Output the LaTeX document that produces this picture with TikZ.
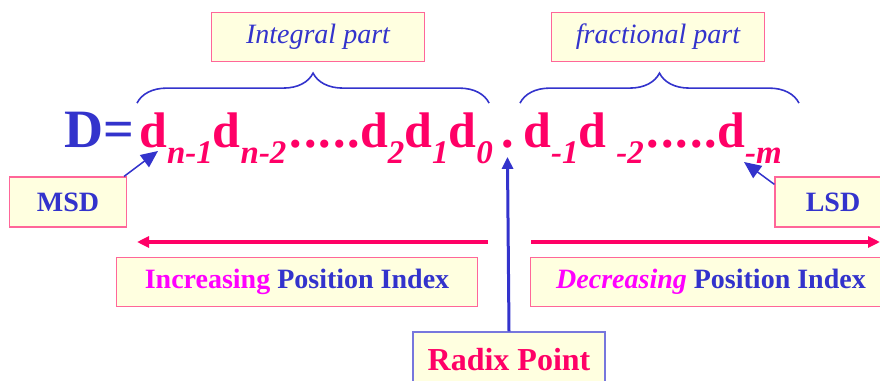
\documentclass[tikz,border=0pt]{standalone}
\usepackage{fontspec}
\setmainfont{Liberation Serif}
\usetikzlibrary{arrows.meta, positioning, decorations.pathreplacing}
\definecolor{DigitRed}{RGB}{255, 0, 102}
\definecolor{LabelBlue}{RGB}{51, 51, 204}
\definecolor{HiMagenta}{RGB}{255, 0, 255}
\definecolor{BoxFill}{RGB}{255, 255, 224}
\definecolor{BoxPink}{RGB}{255, 102, 153}
\definecolor{BoxLilac}{RGB}{119, 119, 221}
\newcommand{\fsz}[1]{\fontsize{#1}{#1}\selectfont}
\newcommand{\sub}[1]{\raisebox{-16pt}{\fsz{33}\itshape #1}}
\newcommand{\dsub}[1]{d\sub{#1}}
\newcommand{\fivedots}{\kern3pt.\kern2pt.\kern2pt.\kern2pt.\kern2pt.}

\begin{document}
\begin{tikzpicture}[x=1pt, y=-1pt,
  box/.style={draw=BoxPink, fill=BoxFill, line width=1.2pt, inner sep=0pt, align=center, text=LabelBlue},
  partbox/.style={box, minimum width=213pt, minimum height=49pt, font=\fsz{28}\itshape},
  sdbox/.style={box, minimum width=117pt, minimum height=50pt, font=\fsz{28}\bfseries},
  idxbox/.style={box, minimum width=361pt, minimum height=49pt, font=\fsz{28}\bfseries},
  digits/.style={inner sep=0pt, anchor=base west, text=DigitRed, font=\fsz{50}\bfseries},
  brc/.style={decorate, decoration={brace, amplitude=30pt}, LabelBlue, line width=1.6pt},
  rarr/.style={-{Triangle[length=12pt, width=11pt]}, DigitRed, line width=3.5pt},
  barr/.style={-{Triangle[length=17pt, width=15pt]}, LabelBlue, line width=1.5pt}]
\useasboundingbox (0, 0) rectangle (880, 380);
% the number
\node[digits, text=LabelBlue, font=\fsz{54}\bfseries] (eqn) at (64, 147) {D=};
\node[digits] (intdig) at (139, 147) {\dsub{n-1}\dsub{n-2}\fivedots\dsub{2}\dsub{1}\dsub{0}};
\node[digits] (rdot) at (501, 147) {.};
\node[digits] (fracdig) at (523, 147) {\dsub{-1}d\kern10pt\sub{-2}\fivedots\dsub{-m}};
% braces and their labels
\draw[brc] ([xshift=-2pt, yshift=9pt]intdig.north west) -- ([xshift=-4pt, yshift=9pt]intdig.north east);
\draw[brc] ([xshift=-3pt, yshift=9pt]fracdig.north west) -- ([xshift=17pt, yshift=9pt]fracdig.north east);
\node[partbox] (intbox) at (318, 37) {Integral part};
\node[partbox] (fracbox) at (658, 37) {fractional part};
% most and least significant digit
\node[sdbox] (msd) at (68, 202) {MSD};
\node[sdbox, minimum width=116pt] (lsd) at (833, 202) {LSD};
\coordinate (msdtip) at (158, 151);
\coordinate (lsdtip) at (744, 162);
\draw[barr] ([xshift=-3pt]msd.north east) -- (msdtip);
\draw[barr] ([yshift=-8pt]lsd.north west) -- (lsdtip);
% position index
\coordinate (incend) at (137, 242);
\coordinate (incstart) at (488, 242);
\coordinate (decstart) at (531, 242);
\coordinate (decend) at (880, 242);
\draw[rarr] (incstart) -- (incend);
\draw[rarr] (decstart) -- (decend);
\node[idxbox] (incbox) at (297, 282) {\textcolor{HiMagenta}{Increasing} Position Index};
\node[idxbox] (decbox) at (711, 282) {\textcolor{HiMagenta}{\itshape Decreasing} Position Index};
% radix point
\node[box, draw=BoxLilac, text=DigitRed, minimum width=192pt, minimum height=56pt, font=\fsz{32}\bfseries] (radix) at (509, 360) {Radix Point};
\draw[-{Triangle[length=12pt, width=11pt]}, LabelBlue, line width=3pt] (radix.north) -- ([yshift=-9pt]rdot.south);
\end{tikzpicture}
\end{document}
